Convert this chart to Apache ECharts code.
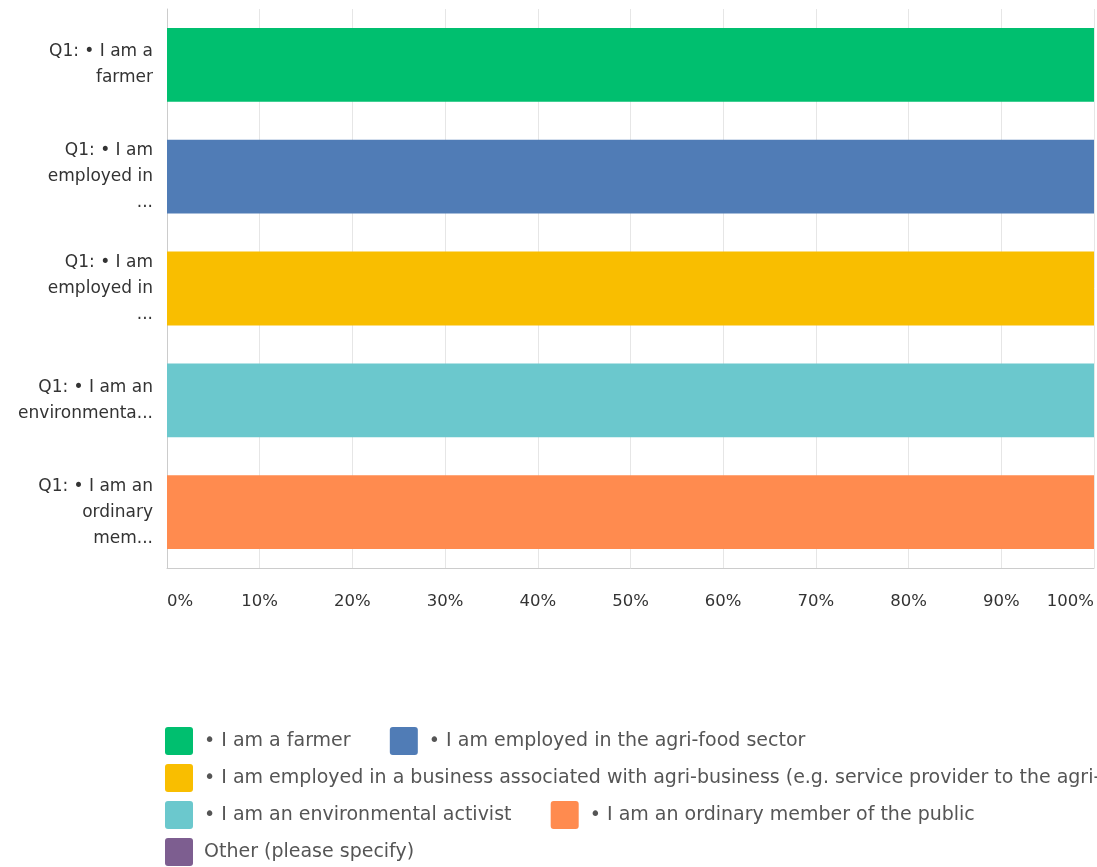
<!DOCTYPE html>
<html>
<head>
<meta charset="utf-8">
<script src="https://cdn.jsdelivr.net/npm/echarts@6/dist/echarts.min.js"></script>
<style>
html,body{margin:0;padding:0;background:#fff;}
#chart{width:1097px;height:867px;}
</style>
</head>
<body>
<div id="chart"></div>
<script>
const categories = [
  "Q1: • I am a\nfarmer",
  "Q1: • I am\nemployed in\n...",
  "Q1: • I am\nemployed in\n...",
  "Q1: • I am an\nenvironmenta...",
  "Q1: • I am an\nordinary\nmem..."
];
const seriesNames = [
  "• I am a farmer",
  "• I am employed in the agri-food sector",
  "• I am employed in a business associated with agri-business (e.g. service provider to the agri-food sector)",
  "• I am an environmental activist",
  "• I am an ordinary member of the public",
  "Other (please specify)"
];
const seriesColors = ["#00bf6f", "#507cb6", "#f9be00", "#6bc8cd", "#ff8b4f", "#7d5e90"];
// percentage per category row for each series
const farmerValues   = [100, 0, 0, 0, 0];
const agriFoodValues = [0, 100, 0, 0, 0];
const businessValues = [0, 0, 100, 0, 0];
const activistValues = [0, 0, 0, 100, 0];
const publicValues   = [0, 0, 0, 0, 100];
const otherValues    = [0, 0, 0, 0, 0];
const seriesValues = [farmerValues, agriFoodValues, businessValues, activistValues, publicValues, otherValues];
const xTicks = [0, 10, 20, 30, 40, 50, 60, 70, 80, 90, 100];

const FONT = "DejaVu Sans";
const NB = '\u00a0';
const chart = echarts.init(document.getElementById('chart'));
chart.setOption({
  animation: false,
  grid: { left: 167, right: 2, top: 9, bottom: 299, containLabel: false },
  xAxis: {
    type: 'value', min: xTicks[0], max: xTicks[xTicks.length - 1], interval: xTicks[1] - xTicks[0],
    axisLine: { show: true, lineStyle: { color: '#cccccc', width: 1 } },
    axisTick: { show: false },
    splitLine: { show: true, lineStyle: { color: '#e6e6e6', width: 1 } },
    axisLabel: {
      formatter: v => v + '%', color: '#333', fontFamily: FONT, fontSize: 16.5, margin: 25,
      alignMinLabel: 'left', alignMaxLabel: 'right'
    }
  },
  yAxis: {
    type: 'category', data: categories, inverse: true,
    axisLine: { show: true, lineStyle: { color: '#cccccc', width: 1 } },
    axisTick: { show: false },
    axisLabel: { color: '#333', fontFamily: FONT, fontSize: 17, lineHeight: 26, margin: 14, align: 'right' }
  },
  legend: {
    left: 160, top: 722, width: 937,
    itemWidth: 28, itemHeight: 28, itemGap: 9,
    icon: 'path://M3,0 L25,0 Q28,0 28,3 L28,25 Q28,28 25,28 L3,28 Q0,28 0,25 L0,3 Q0,0 3,0 Z',
    formatter: name => NB + name + NB.repeat(5),
    textStyle: { color: '#555', fontFamily: FONT, fontSize: 19 },
    data: seriesNames
  },
  series: seriesNames.map((name, i) => ({
    name: name, type: 'bar', stack: 'total',
    data: seriesValues[i],
    barCategoryGap: '34%',
    itemStyle: { color: seriesColors[i] }
  }))
});
</script>
</body>
</html>
